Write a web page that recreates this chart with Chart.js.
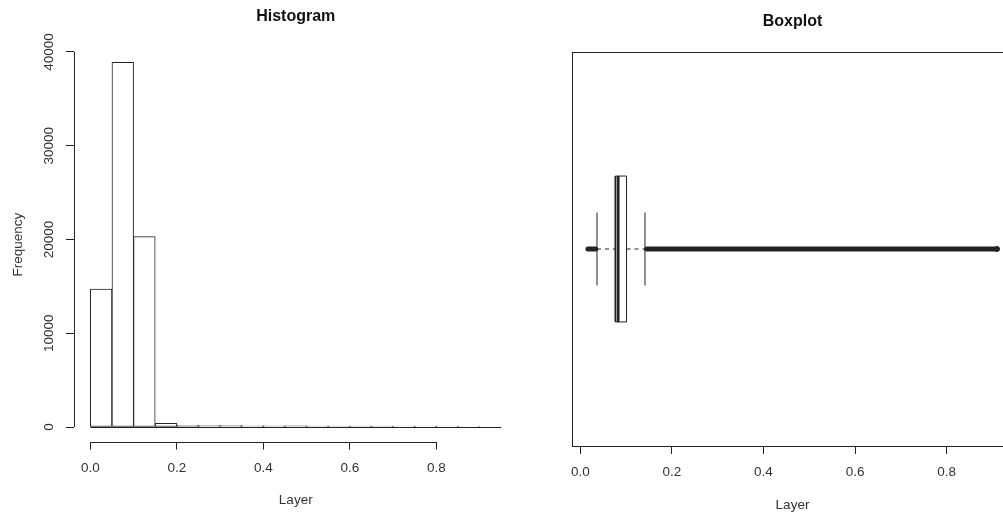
<!DOCTYPE html>
<html lang="en">
<head>
<meta charset="UTF-8">
<title>Layer: Histogram and Boxplot</title>
<script src="https://cdn.jsdelivr.net/npm/chart.js@4.4.1/dist/chart.umd.min.js"></script>
<style>
  html, body { margin: 0; padding: 0; background: #fff; overflow: hidden; width: 1003px; height: 513px; }
  #histChart { position: absolute; left: 0; top: 0; }
  #boxChart { position: absolute; left: 520px; top: 0; }
</style>
</head>
<body>
<canvas id="histChart" width="520" height="513"></canvas>
<canvas id="boxChart" width="500" height="513"></canvas>

<script>
// histogram bins (break points) and counts per bin
const breaks = [0, 0.05, 0.1, 0.15, 0.2, 0.25, 0.3, 0.35, 0.4, 0.45, 0.5, 0.55, 0.6, 0.65, 0.7, 0.75, 0.8, 0.85, 0.9, 0.95];
const counts = [14700, 38900, 20300, 400, 180, 150, 140, 130, 120, 115, 110, 105, 100, 100, 95, 90, 90, 85, 0];
const xTicks = [0, 0.2, 0.4, 0.6, 0.8];
const yTicks = [0, 10000, 20000, 30000, 40000];

// boxplot: lower whisker, Q1, median, Q3, upper whisker
const boxStats = [0.0365, 0.0765, 0.0825, 0.101, 0.1413];
// outliers are so dense they show as a solid band: first and last of each side
const lowOutliers = [0.0168, 0.034];
const highOutliers = [0.145, 0.910];

const ink = '#222';
const textCol = '#333';
const fontFam = "'Liberation Sans', Arial, sans-serif";
const axisFont = { family: fontFam, size: 13.5 };
const titleFont = { family: fontFam, size: 16, weight: 'bold' };

// R style axis range: data range plus 4% each side
function padRange(lo, hi) {
  const d = (hi - lo) * 0.04;
  return [lo - d, hi + d];
}

function line(ctx, x1, y1, x2, y2) {
  ctx.beginPath();
  ctx.moveTo(x1, y1);
  ctx.lineTo(x2, y2);
  ctx.stroke();
}

// ---------- Histogram ----------
const histX = padRange(breaks[0], breaks[breaks.length - 1]);
const histY = padRange(0, Math.max(...counts));

const histAxes = {
  id: 'histAxes',
  afterDatasetsDraw(chart) {
    const { ctx, chartArea, scales: { x, y } } = chart;
    ctx.save();
    ctx.strokeStyle = ink;
    ctx.lineWidth = 1;
    // bottoms of the bins
    const y0 = Math.round(y.getPixelForValue(0)) + 0.5;
    line(ctx, x.getPixelForValue(breaks[0]), y0, x.getPixelForValue(breaks[breaks.length - 1]), y0);
    // x axis line, first to last tick
    const yb = Math.round(chartArea.bottom) + 0.5;
    line(ctx, x.getPixelForValue(xTicks[0]), yb, x.getPixelForValue(xTicks[xTicks.length - 1]), yb);
    // y axis line
    const xl = Math.round(chartArea.left) + 0.5;
    line(ctx, xl, y.getPixelForValue(yTicks[0]), xl, y.getPixelForValue(yTicks[yTicks.length - 1]));
    // rotated y tick labels
    ctx.fillStyle = textCol;
    ctx.font = axisFont.size + 'px ' + fontFam;
    ctx.textAlign = 'center';
    ctx.textBaseline = 'middle';
    yTicks.forEach(v => {
      ctx.save();
      ctx.translate(chartArea.left - 25, y.getPixelForValue(v));
      ctx.rotate(-Math.PI / 2);
      ctx.fillText(String(v), 0, 0);
      ctx.restore();
    });
    ctx.restore();
  }
};

new Chart(document.getElementById('histChart'), {
  type: 'bar',
  data: {
    datasets: [{
      data: counts.map((c, i) => ({ x: (breaks[i] + breaks[i + 1]) / 2, y: c })),
      backgroundColor: '#fff',
      borderColor: ink,
      borderWidth: 1,
      borderSkipped: false,
      barPercentage: 1,
      categoryPercentage: 1
    }]
  },
  options: {
    responsive: false,
    animation: false,
    devicePixelRatio: 1,
    layout: { padding: { left: 0, right: 2.4, top: 0, bottom: 0 } },
    plugins: {
      legend: { display: false },
      tooltip: { enabled: false },
      title: {
        display: true, text: 'Histogram', fullSize: false, color: '#111',
        font: titleFont, padding: { top: 7.4, bottom: 21.1 }
      }
    },
    scales: {
      x: {
        type: 'linear', min: histX[0], max: histX[1], offset: false,
        afterBuildTicks: s => { s.ticks = xTicks.map(v => ({ value: v })); },
        afterFit: s => { s.height = 71.4; },
        grid: { display: true, offset: false, drawOnChartArea: false, drawTicks: true, tickLength: 8, color: ink },
        border: { display: false },
        ticks: { color: textCol, font: axisFont, padding: 10.3, maxRotation: 0, autoSkip: false, callback: v => v.toFixed(1) },
        title: { display: true, text: 'Layer', color: textCol, font: axisFont, padding: { top: 0, bottom: 4.9 } }
      },
      y: {
        type: 'linear', min: histY[0], max: histY[1],
        afterBuildTicks: s => { s.ticks = yTicks.map(v => ({ value: v })); },
        afterFit: s => { s.width = 73.9; },
        grid: { display: true, drawOnChartArea: false, drawTicks: true, tickLength: 8, color: ink },
        border: { display: false },
        ticks: { display: false },
        title: { display: true, text: 'Frequency', color: textCol, font: axisFont, padding: { top: 10.2, bottom: 0 } }
      }
    }
  },
  plugins: [histAxes]
});

// ---------- Boxplot ----------
const boxX = padRange(lowOutliers[0], highOutliers[1]);
const boxY = padRange(0.5, 1.5);
const [wLo, q1, med, q3, wHi] = boxStats;
const boxHalf = 0.2;
const stapleHalf = 0.1;
const seg = (x1, y1, x2, y2) => [{ x: x1, y: y1 }, { x: x2, y: y2 }];

// one line piece of the boxplot
function piece(data, extra) {
  return Object.assign({
    data: data,
    showLine: true,
    borderColor: ink,
    backgroundColor: ink,
    borderWidth: 1,
    pointRadius: 0
  }, extra || {});
}

const frame = {
  id: 'frame',
  afterDatasetsDraw(chart) {
    const { ctx, chartArea: a } = chart;
    ctx.save();
    ctx.strokeStyle = ink;
    ctx.lineWidth = 1;
    const l = Math.round(a.left) + 0.5, t = Math.round(a.top) + 0.5;
    const r = Math.round(a.right) + 0.5, b = Math.round(a.bottom) + 0.5;
    ctx.strokeRect(l, t, r - l, b - t);
    ctx.restore();
  }
};

new Chart(document.getElementById('boxChart'), {
  type: 'scatter',
  data: {
    datasets: [
      piece(seg(wLo, 1, q1, 1), { borderDash: [4, 4] }),
      piece(seg(q3, 1, wHi, 1), { borderDash: [4, 4] }),
      piece([{ x: q1, y: 1 - boxHalf }, { x: q3, y: 1 - boxHalf }, { x: q3, y: 1 + boxHalf }, { x: q1, y: 1 + boxHalf }, { x: q1, y: 1 - boxHalf }]),
      piece(seg(med, 1 - boxHalf, med, 1 + boxHalf), { borderWidth: 3 }),
      piece(seg(wLo, 1 - stapleHalf, wLo, 1 + stapleHalf)),
      piece(seg(wHi, 1 - stapleHalf, wHi, 1 + stapleHalf)),
      piece(seg(lowOutliers[0], 1, lowOutliers[1], 1), { borderWidth: 5, borderCapStyle: 'round' }),
      piece(seg(highOutliers[0], 1, highOutliers[1], 1), { borderWidth: 5, borderCapStyle: 'round' }),
      piece([{ x: highOutliers[1], y: 1 }], { showLine: false, pointRadius: 2.5, pointBackgroundColor: '#fff', pointBorderColor: ink, pointBorderWidth: 1 })
    ]
  },
  options: {
    responsive: false,
    animation: false,
    devicePixelRatio: 1,
    layout: { padding: { left: 51.6, right: 6.6, top: 0, bottom: 0 } },
    plugins: {
      colors: { enabled: false },
      legend: { display: false },
      tooltip: { enabled: false },
      title: {
        display: true, text: 'Boxplot', fullSize: false, color: '#111',
        font: titleFont, padding: { top: 11.7, bottom: 21.1 }
      }
    },
    scales: {
      x: {
        type: 'linear', min: boxX[0], max: boxX[1],
        afterBuildTicks: s => { s.ticks = xTicks.map(v => ({ value: v })); },
        afterFit: s => { s.height = 67; },
        grid: { display: true, drawOnChartArea: false, drawTicks: true, tickLength: 8, color: ink },
        border: { display: false },
        ticks: { color: textCol, font: axisFont, padding: 10.3, maxRotation: 0, autoSkip: false, callback: v => v.toFixed(1) },
        title: { display: true, text: 'Layer', color: textCol, font: axisFont, padding: { top: 0, bottom: 0.1 } }
      },
      y: {
        type: 'linear', min: boxY[0], max: boxY[1], display: false
      }
    }
  },
  plugins: [frame]
});
</script>
</body>
</html>
